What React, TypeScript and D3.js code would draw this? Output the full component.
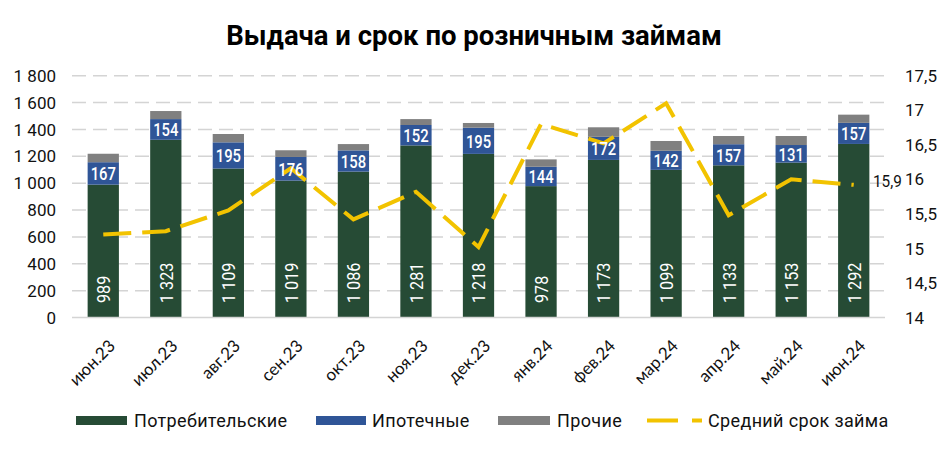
import React from "react";
import * as d3 from "d3";

const categories = ["июн.23", "июл.23", "авг.23", "сен.23", "окт.23", "ноя.23", "дек.23", "янв.24", "фев.24", "мар.24", "апр.24", "май.24", "июн.24"];
const consumer = [989, 1323, 1109, 1019, 1086, 1281, 1218, 978, 1173, 1099, 1133, 1153, 1292];
const mortgage = [167, 154, 195, 176, 158, 152, 195, 144, 172, 142, 157, 131, 157];
const other = [63, 60, 62, 50, 47, 44, 35, 55, 71, 73, 61, 67, 61];
const avgTerm = [15.2, 15.25, 15.55, 16.16, 15.42, 15.82, 15.02, 16.8, 16.52, 17.1, 15.48, 16.0, 15.92];
const lastTermLabel = "15,9";
const leftTicks = [0, 200, 400, 600, 800, 1000, 1200, 1400, 1600, 1800];
const rightTicks = [14, 14.5, 15, 15.5, 16, 16.5, 17, 17.5];
const seriesNames = ["Потребительские", "Ипотечные", "Прочие", "Средний срок займа"];
const title = "Выдача и срок по розничным займам";

const C_GREEN = "#264B35";
const C_BLUE = "#2F5597";
const C_GRAY = "#808080";
const C_YELLOW = "#F2C300";

const locale = d3.formatLocale({ decimal: ",", thousands: "\u00a0", grouping: [3], currency: ["", ""] });
const fmtInt = locale.format(",d");
const fmtDec = (v: number) => locale.format(",")(v);

export default function App() {
  const W = 948, H = 450;
  const x = d3.scaleBand<string>().domain(categories).range([72, 885]).paddingInner(0.5).paddingOuter(0.25);
  const y = d3.scaleLinear().domain([0, 1800]).range([317.5, 75.7]);
  const y2 = d3.scaleLinear().domain([14, 17.5]).range([317.5, 75.7]);
  const bw = x.bandwidth();
  const cx = (c: string) => (x(c) as number) + bw / 2;

  const line = d3.line<number>()
    .x((_, i) => cx(categories[i]))
    .y((v) => y2(v));

  const font = "Roboto, 'DejaVu Sans', sans-serif";
  const legendText = { fontSize: 18, letterSpacing: 0.35, fill: "#111" } as const;

  return (
    <>
      <style>{`body{margin:0}`}</style>
      <svg width={W} height={H} style={{ position: "absolute", left: 0, top: 0, background: "#fff" }} fontFamily={font}>
        <text x={474} y={45} textAnchor="middle" fontSize={27.5} fontWeight={700} fill="#000">{title}</text>

        {leftTicks.map((t) => (
          <g key={"g" + t}>
            {t > 0 && (
              <line x1={72} x2={885} y1={y(t)} y2={y(t)} stroke="#D4D4D4" strokeWidth={1.5} strokeDasharray="14,7" />
            )}
            <text x={56} y={y(t)} dy="0.36em" textAnchor="end" fontSize={17} fill="#111">{fmtInt(t)}</text>
          </g>
        ))}
        {rightTicks.map((t) => (
          <text key={"r" + t} x={905} y={y2(t)} dy="0.36em" textAnchor="start" fontSize={17} fill="#111">{fmtDec(t)}</text>
        ))}

        {categories.map((c, i) => {
          const x0 = x(c) as number;
          const c0 = consumer[i], m0 = mortgage[i], o0 = other[i];
          return (
            <g key={c}>
              <rect x={x0} width={bw} y={y(c0)} height={y(0) - y(c0)} fill={C_GREEN} />
              <rect x={x0} width={bw} y={y(c0 + m0)} height={y(c0) - y(c0 + m0)} fill={C_BLUE} />
              <rect x={x0} width={bw} y={y(c0 + m0 + o0)} height={y(c0 + m0) - y(c0 + m0 + o0)} fill={C_GRAY} />
            </g>
          );
        })}

        <line x1={72} x2={885} y1={y(0)} y2={y(0)} stroke="#D4D4D4" strokeWidth={1.5} />

        <path d={line(avgTerm) || ""} fill="none" stroke={C_YELLOW} strokeWidth={4} strokeDasharray="28,11" />

        {categories.map((c, i) => {
          const c0 = consumer[i], m0 = mortgage[i];
          const my = (y(c0) + y(c0 + m0)) / 2;
          return (
            <g key={"l" + c}>
              <text transform={`translate(${cx(c)},${my}) scale(0.78,1)`} dy="0.36em" textAnchor="middle" fontSize={19} fontWeight={500} fill="#fff">{m0}</text>
              <text transform={`translate(${cx(c)},303) rotate(-90) scale(0.85,1)`} dy="0.36em" textAnchor="start" fontSize={19} fill="#fff">{fmtInt(c0)}</text>
            </g>
          );
        })}

        <text transform={`translate(873,${y2(avgTerm[avgTerm.length - 1]) - 4}) scale(0.9,1)`} dy="0.36em" fontSize={17} fill="#111">{lastTermLabel}</text>

        {categories.map((c) => (
          <text key={"x" + c} transform={`translate(${cx(c) + 13},347) rotate(-45)`} textAnchor="end" fontSize={17} fontFamily="Lato, sans-serif" fill="#111">{c}</text>
        ))}

        {/* legend */}
        <rect x={76} y={416} width={51} height={9} fill={C_GREEN} />
        <text x={134} y={421} dy="0.36em" {...legendText}>{seriesNames[0]}</text>
        <rect x={316} y={416} width={50} height={9} fill={C_BLUE} />
        <text x={372} y={421} dy="0.36em" {...legendText}>{seriesNames[1]}</text>
        <rect x={498} y={416} width={52} height={9} fill={C_GRAY} />
        <text x={557} y={421} dy="0.36em" {...legendText}>{seriesNames[2]}</text>
        <line x1={647} x2={702} y1={420.5} y2={420.5} stroke={C_YELLOW} strokeWidth={4} strokeDasharray="31,14" />
        <text x={708} y={421} dy="0.36em" {...legendText}>{seriesNames[3]}</text>
      </svg>
    </>
  );
}
